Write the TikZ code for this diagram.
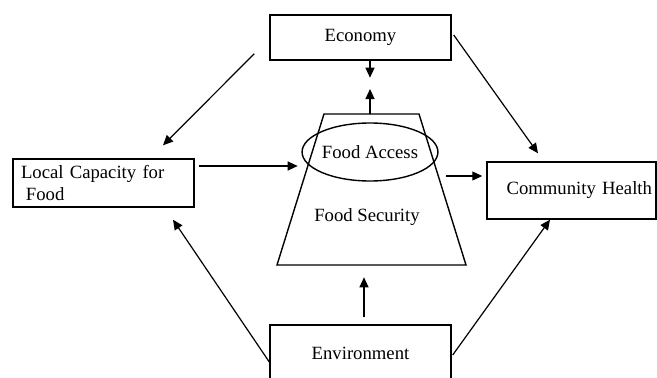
\documentclass[tikz,border=0pt]{standalone}
\usepackage{fontspec}
\setmainfont{Liberation Serif}
\usetikzlibrary{arrows.meta,shapes.geometric,calc}

\begin{document}
\begin{tikzpicture}[x=1pt,y=-1pt,font=\fontsize{18.7}{22}\selectfont,
  box/.style={draw,line width=1.4pt,inner sep=0pt},
  arr/.style={-{Triangle[length=10pt,width=9pt]},line width=1.2pt}]

\useasboundingbox (0,0) rectangle (657,378);
\clip (0,0) rectangle (657,378);

\node[box,minimum width=181,minimum height=45] (eco) at (360.5,37.5) {Economy};
\node[box,minimum width=181,minimum height=48,align=left,text width=165,inner xsep=8] (lcf) at (103.5,183) {Local Capacity for\\\hspace*{5pt}Food};
\node[box,minimum width=169,minimum height=57,align=right,text width=161,inner xsep=4] (ch) at (571.5,190.5) {Community Health};
\node[box,minimum width=181,minimum height=56] (env) at (360.5,353) {Environment};


\begin{scope}
\coordinate (tl) at (324,114);
\coordinate (tr) at (419,114);
\coordinate (br) at (466,265);
\coordinate (bl) at (277,265);

\draw[line width=1.4pt] (tl) -- (tr) -- (br) -- (bl) -- cycle;
\end{scope}

\coordinate (tm) at ($(tl)!0.5!(tr)$);

\node[draw,ellipse,line width=1.4pt,minimum width=113,minimum height=58,inner sep=0pt] (fa) at (370,152) {Food Access};
\node (fs) at (367,217) {Food Security};

\draw[arr] ([shift={(-15pt,7pt)}]eco.south west) -- ([shift={(59.5pt,13pt)}]lcf.north);
\draw[arr] ([shift={(2pt,2.5pt)}]eco.east) -- ([shift={(-33.5pt,8pt)}]ch.north);
\draw[arr] ([xshift=9.5pt]eco.south) -- ++(0,17);
\draw[arr] ([xshift=-1.5pt]tm) -- ++(0,-25);

\draw[arr] ([shift={(4pt,17pt)}]lcf.east) -- ++(99,0);
\draw[arr] ([shift={(-40pt,14.5pt)}]ch.west) -- ([shift={(-4pt,14.5pt)}]ch.west);

\draw[arr] ([shift={(3.5pt,7pt)}]env.north) -- ++(0,-40);
\draw[arr] ([yshift=-9pt]env.west) -- ([shift={(69.5pt,-12pt)}]lcf.south);
\draw[arr] ([shift={(1pt,-2pt)}]env.east) -- ([xshift=-21.5pt]ch.south);

\end{tikzpicture}
\end{document}
